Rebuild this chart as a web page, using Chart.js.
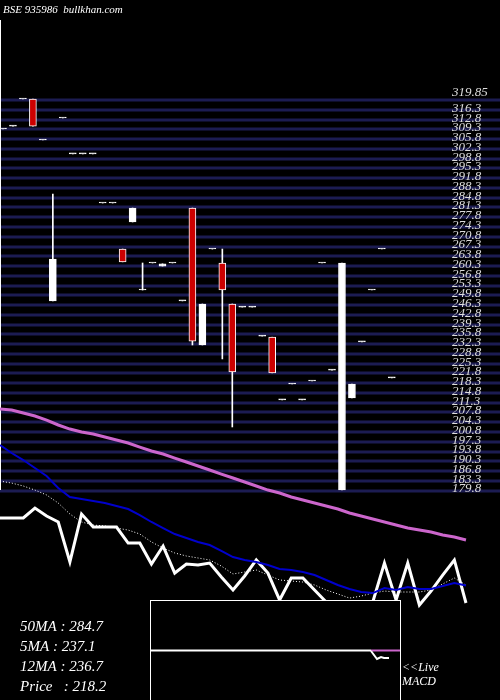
<!DOCTYPE html>
<html>
<head>
<meta charset="utf-8">
<script src="https://cdn.jsdelivr.net/npm/chart.js@4/dist/chart.umd.min.js"></script>
<style>
  html, body { margin: 0; padding: 0; background: #000; }
  canvas { display: block; }
</style>
</head>
<body>
<canvas id="c" width="500" height="700"></canvas>
<script>
// --- candles (price scale) ---
const opens  = [309.45,310.5,320.2,320.2,305.5,247.8,313.4,300.5,300.5,300.5,282.9,282.9,266.4,276.1,251.7,261.4,260.3,261.4,247.8,281.1,232.0,266.4,261.4,246.7,245.6,245.6,235.2,234.8,212.3,218.0,212.3,219.1,261.4,223.0,180.0,213.0,233.1,251.7,266.4,220.2];
const closes = [309.45,310.5,320.2,310.5,305.5,262.8,313.4,300.5,300.5,300.5,282.9,282.9,261.8,281.1,251.7,261.4,261.1,261.4,247.8,233.4,246.7,266.4,251.7,222.3,245.6,245.6,235.2,222.0,212.3,218.0,212.3,219.1,261.4,223.0,261.4,218.0,233.1,251.7,266.4,220.2];
const highs  = [309.45,310.5,320.2,320.2,305.5,286.1,313.4,300.5,300.5,300.5,282.9,282.9,266.4,281.1,261.4,261.4,261.1,261.4,247.8,281.1,246.7,266.4,266.4,246.7,245.6,245.6,235.2,234.8,212.3,218.0,212.3,219.1,261.4,223.0,261.4,218.0,233.1,251.7,266.4,220.2];
const lows   = [309.45,310.5,320.2,310.5,305.5,247.8,313.4,300.5,300.5,300.5,282.9,282.9,261.8,276.1,251.7,261.4,260.3,261.4,247.8,232.0,232.0,266.4,227.0,202.6,245.6,245.6,235.2,222.0,212.3,218.0,212.3,219.1,261.4,223.0,180.0,213.0,233.1,251.7,266.4,220.2];

// --- indicator lines (own scale) ---
const priceLine = [307.9,307.9,307.9,318.4,310.0,303.7,261.5,312.1,298.4,298.4,298.4,281.5,281.5,259.3,278.3,249.8,259.3,258.3,260.4,245.6,231.9,246.7,263.6,249.8,221.4,244.6,244.6,231.9,219.2,219.2,217.1,217.1,219.2,260.4,221.4,260.4,216.1,230.8,247.7,263.6,218.2];
const ma12 = [385.0,376.5,369.1,360.7,352.2,339.6,330.1,328.0,325.8,323.7,320.6,317.4,311.0,303.7,297.3,291.0,286.8,282.6,279.4,273.1,266.7,263.6,261.5,258.3,254.1,253.0,250.9,247.7,242.5,237.2,232.9,229.8,228.7,234.0,231.9,235.1,232.9,232.9,236.1,239.3,236.7];
const ma5 = [346.9,344.8,341.7,337.4,332.2,323.7,312.1,303.7,300.5,299.5,297.3,295.2,291.0,282.6,276.2,271.0,267.8,265.7,263.6,257.2,248.8,250.9,253.0,247.7,242.5,241.4,240.3,237.2,231.9,227.7,223.4,225.5,228.7,230.8,229.8,229.8,229.8,231.9,238.3,244.6,237.1];
const ma50 = [423.0,421.9,418.7,415.6,411.3,406.1,401.8,398.7,396.6,393.4,390.2,387.1,382.8,378.6,375.5,371.2,367.0,362.8,358.6,354.3,350.1,345.9,341.7,337.4,334.3,330.1,326.9,323.7,320.6,317.4,313.2,310.0,306.8,303.7,300.5,297.3,295.2,293.1,289.9,287.8,284.7];

// --- price grid labels ---
const gridLabels = [319.85,316.3,312.8,309.3,305.8,302.3,298.8,295.3,291.8,288.3,284.8,281.3,277.8,274.3,270.8,267.3,263.8,260.3,256.8,253.3,249.8,246.3,242.8,239.3,235.8,232.3,228.8,225.3,221.8,218.3,214.8,211.3,207.8,204.3,200.8,197.3,193.8,190.3,186.8,183.3,179.8];

const infoLines = ['50MA : 284.7', '5MA : 237.1', '12MA : 236.7', 'Price   : 218.2'];

const bodies = opens.map((o, i) => ({ x: i, y: [o, closes[i]] }));
const wicks = highs.map((h, i) => ({ x: i, y: [lows[i], h] }));
const bodyColors = opens.map((o, i) => closes[i] < o ? '#cc0000' : '#ffffff');
const toPts = arr => arr.map((v, i) => ({ x: i, y: v }));

const SERIF = 'italic 15px "Liberation Serif", "DejaVu Serif", serif';

const decor = {
  id: 'decor',
  beforeDatasetsDraw(chart) {
    const c = chart.ctx, y = chart.scales.y;
    c.save();
    c.fillStyle = '#000';
    c.fillRect(0, 0, 500, 700);
    c.strokeStyle = '#1c1c52';
    c.lineWidth = 3;
    gridLabels.forEach(v => {
      const py = Math.round(y.getPixelForValue(v));
      c.beginPath(); c.moveTo(0, py); c.lineTo(500, py); c.stroke();
    });
    c.fillStyle = '#dddddd';
    c.font = 'italic 13px "Liberation Serif", serif';
    c.textBaseline = 'bottom';
    gridLabels.forEach((v, i) => {
      const py = y.getPixelForValue(v);
      c.fillText(String(v), 452, py + (i === 0 ? -1 : 5));
    });
    c.strokeStyle = '#fff'; c.lineWidth = 1;
    c.beginPath(); c.moveTo(0.5, 20); c.lineTo(0.5, 490); c.stroke();
    c.restore();
  },
  afterDatasetsDraw(chart) {
    const c = chart.ctx;
    c.save();
    // MACD box
    c.fillStyle = '#000';
    c.fillRect(150, 600, 250, 100);
    c.strokeStyle = '#fff'; c.lineWidth = 1;
    c.strokeRect(150.5, 600.5, 250, 110);
    c.lineWidth = 2;
    c.beginPath(); c.moveTo(151, 650.5); c.lineTo(371, 650.5); c.stroke();
    c.strokeStyle = '#cc66cc';
    c.beginPath(); c.moveTo(371, 650.5); c.lineTo(400, 650.5); c.stroke();
    c.strokeStyle = '#fff';
    c.beginPath(); c.moveTo(371, 651); c.lineTo(377, 659); c.lineTo(381, 657); c.lineTo(384, 658); c.lineTo(389, 658); c.stroke();
    // texts
    c.fillStyle = '#fff';
    c.textBaseline = 'alphabetic';
    c.font = 'italic 11px "Liberation Serif", serif';
    c.fillText('BSE 935986  bullkhan.com', 3, 13);
    c.font = SERIF;
    infoLines.forEach((t, i) => c.fillText(t, 20, 631 + i * 20));
    c.font = 'italic 12px "Liberation Serif", serif';
    c.fillText('<<Live', 402, 671);
    c.fillText('MACD', 402, 685);
    c.restore();
  }
};

new Chart(document.getElementById('c'), {
  data: {
    datasets: [
      { type: 'line', data: toPts(ma50), xAxisID: 'x2', yAxisID: 'y2', borderColor: '#cc66cc', borderWidth: 3, pointRadius: 0, tension: 0 },
      { type: 'line', data: toPts(ma12), xAxisID: 'x2', yAxisID: 'y2', borderColor: '#0000cc', borderWidth: 2, pointRadius: 0, tension: 0 },
      { type: 'line', data: toPts(ma5), xAxisID: 'x2', yAxisID: 'y2', borderColor: '#ffffff', borderWidth: 1, borderDash: [1, 2], pointRadius: 0, tension: 0 },
      { type: 'line', data: toPts(priceLine), xAxisID: 'x2', yAxisID: 'y2', borderColor: '#ffffff', borderWidth: 3, pointRadius: 0, tension: 0 },
      { type: 'bar', data: wicks, xAxisID: 'x', yAxisID: 'y', backgroundColor: '#fff', barThickness: 1, grouped: false, order: 2 },
      { type: 'bar', data: bodies, xAxisID: 'x', yAxisID: 'y', backgroundColor: bodyColors, borderColor: '#fff', borderWidth: 1, borderSkipped: false, barThickness: 7, minBarLength: 1, grouped: false, order: 1 }
    ]
  },
  options: {
    responsive: false,
    devicePixelRatio: 1,
    animation: false,
    layout: { padding: 0 },
    plugins: { legend: { display: false }, tooltip: { enabled: false } },
    scales: {
      x:  { type: 'linear', min: -0.3, max: 49.85, offset: false, display: false },
      y:  { type: 'linear', min: 104.7, max: 355.7, display: false },
      x2: { type: 'linear', min: 0, max: 42.92, offset: false, display: false },
      y2: { type: 'linear', min: 115.8, max: 854.7, display: false }
    }
  },
  plugins: [decor]
});
</script>
</body>
</html>
